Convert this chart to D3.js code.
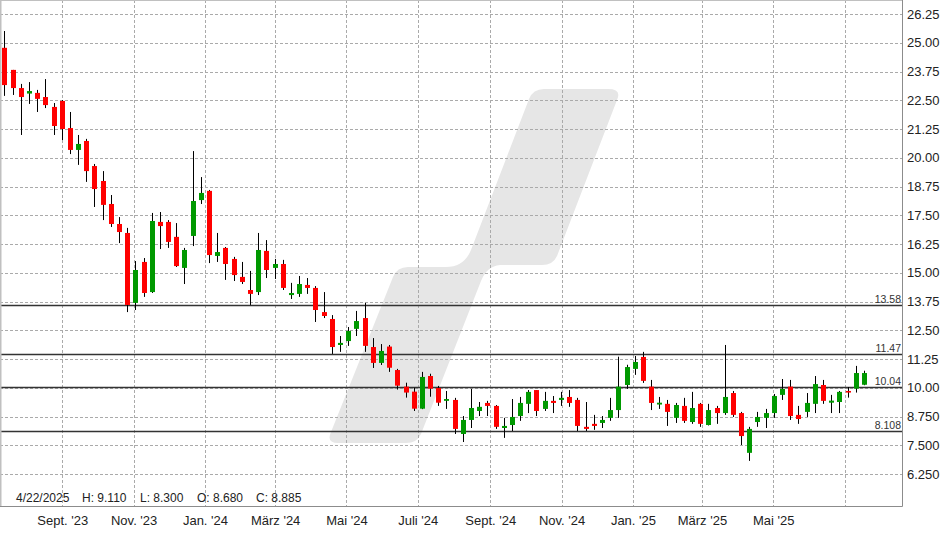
<!DOCTYPE html>
<html><head><meta charset="utf-8">
<script src="https://cdn.jsdelivr.net/npm/d3@7"></script>
<style>
body{margin:0;background:#fff}
svg{display:block;font-family:"Liberation Sans",Arial,Helvetica,sans-serif}
</style>
</head><body>
<svg id="c" width="948" height="534"></svg>
<script>
// ---- DATA ----
const dates = [
"2023-07-13","2023-07-20","2023-07-27","2023-08-03","2023-08-10","2023-08-17","2023-08-24","2023-08-31","2023-09-07","2023-09-14","2023-09-21","2023-09-28","2023-10-05","2023-10-12","2023-10-19","2023-10-26","2023-11-02","2023-11-09","2023-11-16","2023-11-23","2023-11-30","2023-12-07","2023-12-14","2023-12-21","2023-12-28",
"2024-01-04","2024-01-11","2024-01-18","2024-01-25","2024-02-01","2024-02-08","2024-02-15","2024-02-22","2024-02-29","2024-03-07","2024-03-14","2024-03-21","2024-03-28","2024-04-04","2024-04-11","2024-04-18","2024-04-25","2024-05-02","2024-05-09","2024-05-16","2024-05-23","2024-05-30","2024-06-06","2024-06-13","2024-06-20","2024-06-27","2024-07-04","2024-07-11","2024-07-18","2024-07-25","2024-08-01","2024-08-08","2024-08-15","2024-08-22","2024-08-29","2024-09-05","2024-09-12","2024-09-19","2024-09-26","2024-10-03","2024-10-10","2024-10-17","2024-10-24","2024-10-31","2024-11-07","2024-11-14","2024-11-21","2024-11-28","2024-12-05","2024-12-12","2024-12-19","2024-12-26",
"2025-01-02","2025-01-09","2025-01-16","2025-01-23","2025-01-30","2025-02-06","2025-02-13","2025-02-20","2025-02-27","2025-03-06","2025-03-13","2025-03-20","2025-03-27","2025-04-03","2025-04-10","2025-04-17","2025-04-24","2025-05-01","2025-05-08","2025-05-15","2025-05-22","2025-05-29","2025-06-05","2025-06-12","2025-06-19","2025-06-26","2025-07-03","2025-07-10","2025-07-17"];

const open = [24.78,23.82,23.03,22.79,22.82,22.64,22.21,22.47,21.29,20.34,20.73,19.64,18.99,17.99,17.12,16.73,13.69,15.47,14.16,17.21,17.21,16.56,15.21,16.60,18.16,
18.56,15.73,16.08,15.60,14.82,14.25,14.16,15.95,15.21,15.38,14.03,14.08,14.47,14.34,13.29,12.99,11.86,12.03,12.56,13.03,11.77,11.08,11.79,10.77,10.05,9.83,9.09,10.51,9.99,9.43,9.47,7.99,8.60,8.99,9.34,9.21,8.25,8.38,8.77,9.30,9.90,9.08,9.43,9.47,9.60,9.47,8.30,8.43,8.47,8.69,9.03,10.12,
10.82,11.34,10.05,9.27,9.30,8.69,9.21,8.51,9.30,8.38,9.12,8.90,9.77,8.90,7.17,8.51,8.69,8.90,9.69,10.05,8.82,8.95,9.30,10.12,9.35,9.38,9.86,9.96,10.13];
const high = [25.51,23.82,23.21,23.29,22.95,23.42,22.38,22.51,21.99,20.99,20.82,19.73,19.42,18.38,17.42,16.95,15.51,15.64,17.60,17.64,17.29,17.16,16.08,20.29,19.16,
18.60,16.73,16.12,15.69,15.47,15.08,16.73,16.42,15.60,15.56,14.56,14.86,14.77,14.42,14.16,13.16,12.25,12.64,13.34,13.69,12.16,11.90,11.86,10.82,10.22,10.00,10.69,10.61,10.08,9.86,9.56,8.77,9.95,9.38,9.43,9.25,8.69,9.51,9.60,9.90,9.90,9.82,9.64,9.82,9.90,9.56,9.38,8.82,8.77,9.56,11.35,11.00,
11.38,11.56,10.34,9.60,9.47,9.34,9.56,9.82,9.34,9.30,9.21,11.86,9.86,8.95,8.30,8.95,9.08,9.73,10.38,10.34,9.21,9.77,10.51,10.34,9.69,9.86,10.03,10.95,10.74];
const low = [22.69,22.73,20.99,22.34,21.99,22.16,20.99,20.77,20.16,19.69,18.95,17.86,17.29,16.99,16.29,13.29,13.38,13.95,14.12,16.03,16.08,15.25,14.51,16.16,17.99,
15.42,15.47,14.69,14.64,14.51,13.60,14.03,14.77,14.73,14.25,13.86,13.95,14.08,12.86,13.03,11.47,11.56,11.82,12.25,11.56,10.86,10.99,10.69,9.92,9.57,8.99,9.07,9.61,9.21,9.08,7.99,7.64,8.25,8.77,8.77,8.21,7.82,8.12,8.56,8.90,8.77,8.99,8.90,9.21,9.17,8.12,8.12,8.17,8.25,8.56,8.69,9.95,
10.56,10.21,9.03,9.08,8.34,8.47,8.47,8.43,8.30,8.36,8.43,8.82,8.73,7.51,6.82,8.30,8.25,8.69,9.47,8.60,8.43,8.73,8.90,9.30,8.90,8.90,9.57,9.79,10.11];
const close = [23.16,23.03,22.64,22.90,22.56,22.29,21.38,21.25,20.34,20.60,19.42,18.64,17.95,17.12,16.77,13.60,15.12,14.12,17.25,17.03,16.34,15.29,15.99,18.12,18.47,
15.77,15.90,15.38,14.90,14.60,14.08,15.99,15.12,15.38,14.34,14.12,14.51,14.34,13.38,13.12,11.77,11.95,12.47,12.90,11.82,11.08,11.60,10.87,10.09,9.79,9.09,10.47,9.96,9.35,9.51,8.21,8.60,9.12,9.17,9.21,8.30,8.34,8.73,9.34,9.82,8.99,9.43,9.34,9.56,9.34,8.34,8.21,8.34,8.60,9.03,10.05,10.90,
11.12,10.30,9.34,9.35,8.95,9.25,8.56,9.12,8.43,9.03,8.90,9.60,8.82,7.90,8.21,8.73,8.90,9.64,9.95,8.77,8.64,9.34,10.16,9.43,9.44,9.82,9.79,10.64,10.64];

const yTicks = [6.25,7.5,8.75,10,11.25,12.5,13.75,15,16.25,17.5,18.75,20,21.25,22.5,23.75,25,26.25];
const yTickLabels = ["6.250","7.500","8.750","10.00","11.25","12.50","13.75","15.00","16.25","17.50","18.75","20.00","21.25","22.50","23.75","25.00","26.25"];
const xTickDates = ["2023-09-01","2023-11-01","2024-01-01","2024-03-01","2024-05-01","2024-07-01","2024-09-01","2024-11-01","2025-01-01","2025-03-01","2025-05-01","2025-07-01"];
const xTickLabels = ["Sept. '23","Nov. '23","Jan. '24","März '24","Mai '24","Juli '24","Sept. '24","Nov. '24","Jan. '25","März '25","Mai '25",""];
const refLevels = [13.58, 11.47, 10.04, 8.108];
const refLabels = ["13.58","11.47","10.04","8.108"];
const infoLabels = ["4/22/2025","H: 9.110","L: 8.300","O: 8.680","C: 8.885"];

// ---- LAYOUT ----
const W = 902, H = 506;
const svg = d3.select("#c");
svg.append("rect").attr("width",948).attr("height",534).attr("fill","#fff");

const parse = s => new Date(s + "T12:00:00Z");
const parseM = s => new Date(s + "T00:00:00Z");
const x = d3.scaleUtc().domain([parseM("2023-09-01"), parseM("2025-07-01")]).range([62.3, 844.6]);
const y = d3.scaleLinear().domain([6.25, 26.25]).range([474, 14]);

const candles = dates.map((d,i)=>({date:parse(d), o:open[i], h:high[i], l:low[i], c:close[i]}));

// watermark
svg.append("path")
  .attr("fill","#e6e6e6")
  .attr("d","M338,443 Q326,443 331,432 L393,277 Q397,267 408,267 L446,267 Q464,267 471,250 L529,99 Q533,89 544,89 L608,89 Q622,89 617,100 L557,256 Q553,265 542,265 L500,265 Q487,266 481,281 L421,434 Q417,443 406,443 Z");

// gridlines
const grid = svg.append("g").attr("stroke","#aaaaaa").attr("stroke-dasharray","3,2").attr("stroke-width",1);
grid.selectAll("line.h").data(yTicks).join("line").attr("class","h")
  .attr("x1",0).attr("x2",W)
  .attr("y1",d=>Math.round(y(d))+0.5).attr("y2",d=>Math.round(y(d))+0.5);
grid.selectAll("line.v").data(xTickDates).join("line").attr("class","v")
  .attr("y1",0).attr("y2",H)
  .attr("x1",d=>Math.round(x(parseM(d)))+0.5).attr("x2",d=>Math.round(x(parseM(d)))+0.5);

// reference lines
const refG = svg.append("g");
refG.selectAll("line").data(refLevels).join("line")
  .attr("x1",0).attr("x2",W)
  .attr("y1",d=>Math.round(y(d))+0.5).attr("y2",d=>Math.round(y(d))+0.5)
  .attr("stroke","#333").attr("stroke-width",1.3);

// candles
const cg = svg.append("g");
cg.selectAll("line").data(candles).join("line")
  .attr("x1",d=>Math.round(x(d.date))+0.5).attr("x2",d=>Math.round(x(d.date))+0.5)
  .attr("y1",d=>y(d.h)).attr("y2",d=>y(d.l))
  .attr("stroke","#000").attr("stroke-width",1);
cg.selectAll("rect").data(candles).join("rect")
  .attr("x",d=>Math.round(x(d.date))-2)
  .attr("width",5)
  .attr("y",d=>y(Math.max(d.o,d.c)))
  .attr("height",d=>Math.max(1.5, Math.abs(y(d.o)-y(d.c))))
  .attr("fill",d=>d.c>=d.o ? "#009900" : "#ff0000");

// reference labels
refG.selectAll("text").data(refLevels).join("text")
  .attr("x",W-1).attr("y",d=>Math.round(y(d))-2)
  .attr("text-anchor","end").attr("font-size",10.5).attr("fill","#333")
  .text((d,i)=>refLabels[i]);

// frame
svg.append("line").attr("x1",0.5).attr("x2",0.5).attr("y1",0).attr("y2",H).attr("stroke","#c0c0c0").attr("stroke-width",2);
svg.append("line").attr("x1",0).attr("x2",W).attr("y1",0.5).attr("y2",0.5).attr("stroke","#c0c0c0");
svg.append("line").attr("x1",0).attr("x2",W+0.5).attr("y1",H+0.5).attr("y2",H+0.5).attr("stroke","#8c8c8c");
svg.append("line").attr("x1",W+0.5).attr("x2",W+0.5).attr("y1",0).attr("y2",H+0.5).attr("stroke","#8c8c8c");

// y axis labels
const yAxis = d3.axisRight(y).tickValues(yTicks).tickSize(0).tickPadding(5)
  .tickFormat((d,i)=>yTickLabels[i]);
const ya = svg.append("g").attr("transform",`translate(${W},0)`).call(yAxis);
ya.select(".domain").remove();
ya.selectAll("text").attr("font-size",13).attr("fill","#222").attr("font-family",'"Liberation Sans",Arial,sans-serif');

// x axis labels
const xAxis = d3.axisBottom(x).tickValues(xTickDates.map(parseM)).tickSize(0).tickPadding(0)
  .tickFormat((d,i)=>xTickLabels[i]);
const xa = svg.append("g").attr("transform",`translate(0,${H})`).call(xAxis);
xa.select(".domain").remove();
xa.selectAll("text").attr("font-size",13).attr("fill","#222").attr("dy",null).attr("y",19)
  .attr("font-family",'"Liberation Sans",Arial,sans-serif');

// info text
const infoX = [16, 82, 140, 197, 256];
svg.append("g").selectAll("text").data(infoLabels).join("text")
  .attr("x",(d,i)=>infoX[i]).attr("y",502)
  .attr("font-size",12).attr("fill","#222").text(d=>d);
</script>
</body></html>
